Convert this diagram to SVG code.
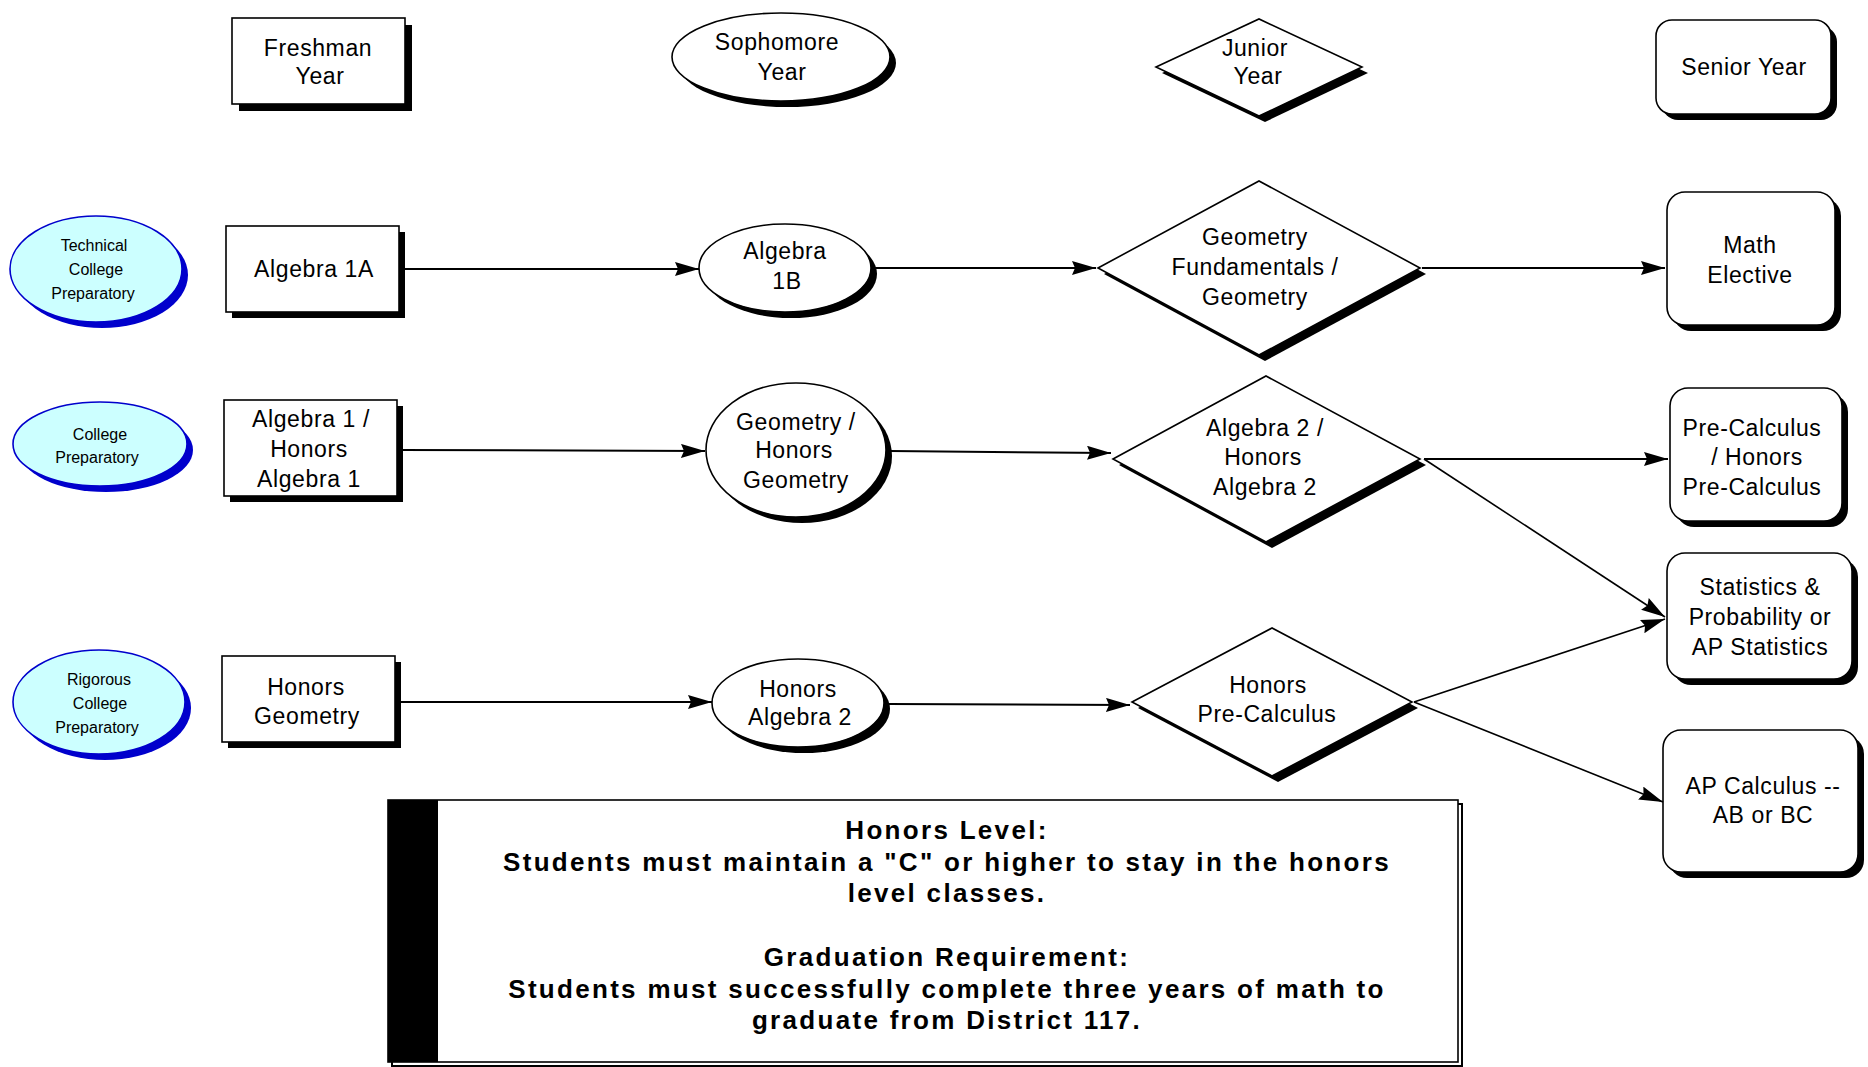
<svg xmlns="http://www.w3.org/2000/svg" width="1868" height="1067" viewBox="0 0 1868 1067">
<style>
.t{font-family:"Liberation Sans",Arial,sans-serif;font-size:23px;fill:#000;text-anchor:middle;letter-spacing:0.6px}
.s{font-family:"Liberation Sans",Arial,sans-serif;font-size:16px;fill:#000;text-anchor:middle}
.n{font-family:"Liberation Sans",Arial,sans-serif;font-size:26px;font-weight:bold;fill:#000;text-anchor:middle;letter-spacing:2.3px}
.sh{fill:#000}
.bx{fill:#fff;stroke:#000;stroke-width:1.6}
.tr{fill:#ccffff;stroke:#0000cc;stroke-width:1.6}
.tsh{fill:#0000cc}
.c{stroke:#000;stroke-width:2;fill:none;marker-end:url(#ah)}
.cd{stroke:#000;stroke-width:1.6;fill:none;marker-end:url(#ah)}
</style>
<defs>
<marker id="ah" markerUnits="userSpaceOnUse" markerWidth="26" markerHeight="16" refX="24" refY="7" orient="auto">
<path d="M0,0 L24,7 L0,14 L3,7 z" fill="#000"/>
</marker>
</defs>
<rect width="1868" height="1067" fill="#fff"/>

<g id="freshman">
<rect class="sh" x="239" y="25" width="173" height="86"/>
<rect class="bx" x="232" y="18" width="173" height="86"/>
<text class="t" x="318" y="56">Freshman</text>
<text class="t" x="320" y="84">Year</text>
</g>
<g id="sophomore">
<ellipse class="sh" cx="787" cy="63" rx="109" ry="44"/>
<ellipse class="bx" cx="781" cy="57" rx="109" ry="44"/>
<text class="t" x="777" y="50">Sophomore</text>
<text class="t" x="782" y="80">Year</text>
</g>
<g id="junior">
<polygon class="sh" points="1162,73 1265,25 1368,73 1265,122"/>
<polygon class="bx" points="1156,67 1259,19 1362,67 1259,116"/>
<text class="t" x="1255" y="56">Junior</text>
<text class="t" x="1258" y="84">Year</text>
</g>
<g id="senior">
<rect class="sh" x="1662" y="26" width="175" height="94" rx="16"/>
<rect class="bx" x="1656" y="20" width="175" height="94" rx="16"/>
<text class="t" x="1744" y="75">Senior Year</text>
</g>

<g id="track-technical">
<ellipse class="tsh" cx="102" cy="275" rx="86" ry="53"/>
<ellipse class="tr" cx="96" cy="269" rx="86" ry="53"/>
<text class="s" x="94" y="251">Technical</text>
<text class="s" x="96" y="275">College</text>
<text class="s" x="93" y="299">Preparatory</text>
</g>
<g id="algebra1a">
<rect class="sh" x="232" y="232" width="173" height="86"/>
<rect class="bx" x="226" y="226" width="173" height="86"/>
<text class="t" x="314" y="277">Algebra 1A</text>
</g>
<g id="algebra1b">
<ellipse class="sh" cx="791" cy="274" rx="86" ry="44"/>
<ellipse class="bx" cx="785" cy="268" rx="86" ry="44"/>
<text class="t" x="785" y="259">Algebra</text>
<text class="t" x="787" y="289">1B</text>
</g>
<g id="geomfund">
<polygon class="sh" points="1104,274 1265,187 1426,274 1265,361"/>
<polygon class="bx" points="1098,268 1259,181 1420,268 1259,355"/>
<text class="t" x="1255" y="245">Geometry</text>
<text class="t" x="1255" y="275">Fundamentals /</text>
<text class="t" x="1255" y="305">Geometry</text>
</g>
<g id="mathelective">
<rect class="sh" x="1673" y="198" width="168" height="133" rx="18"/>
<rect class="bx" x="1667" y="192" width="168" height="133" rx="18"/>
<text class="t" x="1750" y="253">Math</text>
<text class="t" x="1750" y="283">Elective</text>
</g>

<g id="track-college">
<ellipse class="tsh" cx="106" cy="450" rx="87" ry="42"/>
<ellipse class="tr" cx="100" cy="444" rx="87" ry="42"/>
<text class="s" x="100" y="440">College</text>
<text class="s" x="97" y="463">Preparatory</text>
</g>
<g id="algebra1">
<rect class="sh" x="230" y="406" width="173" height="96"/>
<rect class="bx" x="224" y="400" width="173" height="96"/>
<text class="t" x="311" y="427">Algebra 1 /</text>
<text class="t" x="309" y="457">Honors</text>
<text class="t" x="309" y="487">Algebra 1</text>
</g>
<g id="geometry">
<ellipse class="sh" cx="802" cy="456" rx="90" ry="67"/>
<ellipse class="bx" cx="796" cy="450" rx="90" ry="67"/>
<text class="t" x="796" y="430">Geometry /</text>
<text class="t" x="794" y="458">Honors</text>
<text class="t" x="796" y="488">Geometry</text>
</g>
<g id="algebra2">
<polygon class="sh" points="1119,465 1272,382 1426,465 1272,548"/>
<polygon class="bx" points="1113,459 1266,376 1420,459 1266,542"/>
<text class="t" x="1265" y="436">Algebra 2 /</text>
<text class="t" x="1263" y="465">Honors</text>
<text class="t" x="1265" y="495">Algebra 2</text>
</g>
<g id="precalc">
<rect class="sh" x="1676" y="394" width="172" height="133" rx="18"/>
<rect class="bx" x="1670" y="388" width="172" height="133" rx="18"/>
<text class="t" x="1752" y="436">Pre-Calculus</text>
<text class="t" x="1757" y="465">/ Honors</text>
<text class="t" x="1752" y="495">Pre-Calculus</text>
</g>

<g id="track-rigorous">
<ellipse class="tsh" cx="105" cy="708" rx="86" ry="52"/>
<ellipse class="tr" cx="99" cy="702" rx="86" ry="52"/>
<text class="s" x="99" y="685">Rigorous</text>
<text class="s" x="100" y="709">College</text>
<text class="s" x="97" y="733">Preparatory</text>
</g>
<g id="honorsgeometry">
<rect class="sh" x="228" y="662" width="173" height="86"/>
<rect class="bx" x="222" y="656" width="173" height="86"/>
<text class="t" x="306" y="695">Honors</text>
<text class="t" x="307" y="724">Geometry</text>
</g>
<g id="honorsalgebra2">
<ellipse class="sh" cx="804" cy="709" rx="86" ry="44"/>
<ellipse class="bx" cx="798" cy="703" rx="86" ry="44"/>
<text class="t" x="798" y="697">Honors</text>
<text class="t" x="800" y="725">Algebra 2</text>
</g>
<g id="honorsprecalc">
<polygon class="sh" points="1138,708 1278,634 1418,708 1278,782"/>
<polygon class="bx" points="1132,702 1272,628 1412,702 1272,776"/>
<text class="t" x="1268" y="693">Honors</text>
<text class="t" x="1267" y="722">Pre-Calculus</text>
</g>
<g id="statistics">
<rect class="sh" x="1673" y="559" width="185" height="126" rx="18"/>
<rect class="bx" x="1667" y="553" width="185" height="126" rx="18"/>
<text class="t" x="1760" y="595">Statistics &amp;</text>
<text class="t" x="1760" y="625">Probability or</text>
<text class="t" x="1760" y="655">AP Statistics</text>
</g>
<g id="apcalculus">
<rect class="sh" x="1669" y="736" width="195" height="142" rx="18"/>
<rect class="bx" x="1663" y="730" width="195" height="142" rx="18"/>
<text class="t" x="1763" y="794">AP Calculus --</text>
<text class="t" x="1763" y="823">AB or BC</text>
</g>

<g id="connectors">
<line class="c" x1="405" y1="269" x2="699" y2="269"/>
<line class="c" x1="875" y1="268" x2="1096" y2="268"/>
<line class="c" x1="1422" y1="268" x2="1665" y2="268"/>
<line class="c" x1="401" y1="450" x2="705" y2="451"/>
<line class="c" x1="890" y1="451" x2="1111" y2="453"/>
<line class="c" x1="1424" y1="459" x2="1668" y2="459"/>
<line class="cd" x1="1424" y1="459" x2="1665" y2="617"/>
<line class="c" x1="399" y1="702" x2="712" y2="702"/>
<line class="c" x1="888" y1="704" x2="1130" y2="705"/>
<line class="cd" x1="1414" y1="702" x2="1665" y2="619"/>
<line class="cd" x1="1414" y1="702" x2="1663" y2="802"/>
</g>

<g id="notes">
<rect x="392" y="804" width="1070" height="262" fill="none" stroke="#000" stroke-width="2"/>
<rect class="bx" x="388" y="800" width="1070" height="262"/>
<rect x="388" y="800" width="50" height="262" fill="#000"/>
<text class="n" x="947" y="839">Honors Level:</text>
<text class="n" x="947" y="871">Students must maintain a "C" or higher to stay in the honors</text>
<text class="n" x="947" y="902">level classes.</text>
<text class="n" x="947" y="966">Graduation Requirement:</text>
<text class="n" x="947" y="998">Students must successfully complete three years of math to</text>
<text class="n" x="947" y="1029">graduate from District 117.</text>
</g>
</svg>
